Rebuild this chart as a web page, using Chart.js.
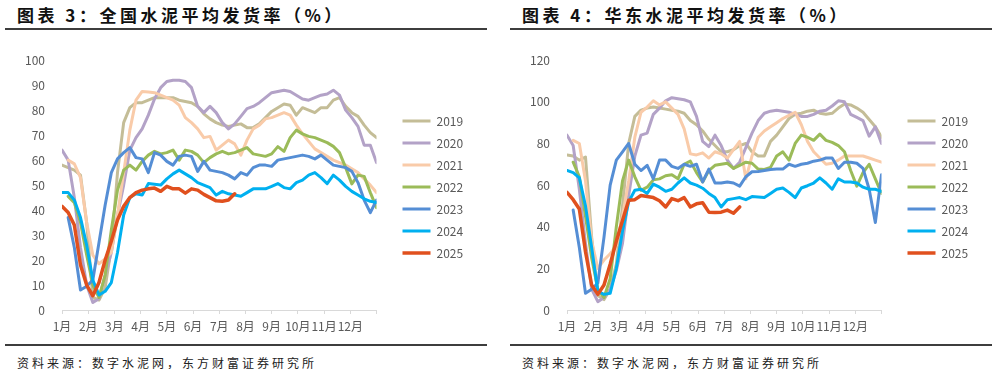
<!DOCTYPE html>
<html lang="zh">
<head>
<meta charset="UTF-8">
<title>水泥平均发货率</title>
<script src="https://cdn.jsdelivr.net/npm/chart.js"></script>
<style>
  body { margin: 0; background: #fff; width: 997px; height: 369px; overflow: hidden; position: relative;
         font-family: "Noto Sans CJK SC", sans-serif; }
  .title { position: absolute; top: 3px; font-weight: 700; font-size: 17px; letter-spacing: 3.5px;
           color: #111; line-height: 24px; white-space: nowrap; }
  .rule { position: absolute; height: 2px; background: #3d3d3d; }
  .src { position: absolute; top: 355px; font-size: 12px; letter-spacing: 3px; color: #222;
         line-height: 16px; white-space: nowrap; }
  canvas { position: absolute; top: 36px; }
</style>
</head>
<body>

<div class="title" style="left:17px">图表 3：全国水泥平均发货率（%）</div>
<div class="rule" style="left:5px;width:482px;top:28px"></div>
<div class="title" style="left:522px">图表 4：华东水泥平均发货率（%）</div>
<div class="rule" style="left:510px;width:482px;top:28px"></div>

<canvas id="natChart" width="490" height="304" style="left:0"></canvas>
<canvas id="eastChart" width="490" height="304" style="left:505px"></canvas>

<div class="rule" style="left:5px;width:482px;top:344px"></div>
<div class="src" style="left:17px">资料来源：数字水泥网，东方财富证券研究所</div>
<div class="rule" style="left:510px;width:482px;top:344px"></div>
<div class="src" style="left:522px">资料来源：数字水泥网，东方财富证券研究所</div>

<script>
// weekly shipment rate, one value per week (index 0 = first week of Jan)
const monthLabels = ['1月','2月','3月','4月','5月','6月','7月','8月','9月','10月','11月','12月'];
const seriesNames = ['2019','2020','2021','2022','2023','2024','2025'];

// 全国
const nat2019 = [58,57,56,54,35,5,4,9,25,55,75,81,83,83,84,85,85,85,85,84,83.5,83,81.5,78.5,76.5,75,74,73.5,74,74.5,73,73,74.5,77,79.5,81,82.5,82,78,81,80,79,81,81,84,85,81.5,79,77.5,74,71,69];
const nat2020 = [64,60,45,25,10,3,4.5,14,23,38,50,64,69,72.5,78,84.5,89,91.5,92,92,91.5,89,81.5,79,81.5,79,75,72.5,74.5,77.5,80.6,81.5,83,85,87,87.5,88,87.5,86,84.5,84,85,86,86.5,88,86,80,77,73.5,66,66,59];
const nat2021 = [null,60,58.5,53,35,22,18.5,20.5,23,38,55,72,84,87.5,87.3,87,86,85,84,82,77,75,72.5,69,69.5,64,66,68,66.5,62,68,72.5,74,76.5,77,78,79,78,74,70.5,67.5,64.5,63,61.5,60,59,58,56.5,55,52.5,50,47];
const nat2022 = [null,45.5,43,35,22,10,5,14,32,48,56,58,56,59.5,62,63.5,62.5,63,64,60,64,63.5,62,59,61,62.5,63.5,62.5,63,64,65,62.5,62,61.5,62.5,65.4,63.5,69,72,70.5,69.5,69,68,67,65.5,63,57,50.5,54,53.5,47,41];
const nat2023 = [null,37,25,8,9.5,12,27,42,55,60.5,63,65,61,60.5,55,63,62,59.5,58,61.5,62,61.5,55.5,59.5,56,55.5,55,54,52.5,55,54,57,58,58,57.5,60,60.5,61,61.5,62,61.5,60.5,62,60,58,57.5,57,55.5,51,44,39,44];
const nat2024 = [47,47,44,37,26,12,6,7.5,11,23,38,45,46.5,46,50.6,50.3,50,52.5,54.5,56,54.5,53,51,50,49,46,47.5,46.5,46,45.5,47,48.5,48.5,48.5,49.5,50.6,49,48.5,51,52,54,55,53,50.6,54,52,49.5,47.5,46,44.5,43.5,43];
const nat2025 = [41.5,39,34,18,10,5.7,11,20,27.5,36,41.5,45,47,48,48.5,48.8,47.5,49.5,48.5,48.5,46.8,48.5,48,46.3,45,43.7,43.5,44,46.5];

// 华东
const east2019 = [74.5,74,72,73.5,35,7,5,10,22,50,80,93,96,97,97.5,97,96.5,96,95.5,94.5,91,89,86,82,79,76,76,77,79,80,76,74,74,81,84,88,92,94,94.5,95.5,96,94.5,94,94.5,97,99,98.5,97,95,91.5,88,83];
const east2020 = [84,79,58,32,10,4,6,10,19,32,55,74,84,85,94,97,100.5,102,101.5,101,100,93,81,78.5,84,79,72,68,71,78,85,91,94.5,95.5,96,95.5,95,94,93,93,94,95.5,96,98,100.5,100,94,92.5,91,83.5,88,80];
const east2021 = [null,81.5,80,62,33,20,24,27,31,45,62,83,95,97.5,100.5,98.5,100,97,94,87,75,74.5,75.5,73,76,75,73,77,81,63,74,83,86,88,90,92,93.5,95,89,81,76,73,70,70.5,72,74,74,74,74,73,72,71];
const east2022 = [null,71,64,45,25,10,6,15,40,62,72,64,57.5,59,62.5,63,64.5,65,63,70,71.5,66,61.5,67,69.5,70,70.5,68,69.5,71,70.5,67.7,67.5,68.5,74,76,72,80,84,83,81.5,84.5,81.5,80.5,79,76,67,59.5,66,70,63,56];
const east2023 = [null,48,30,8,10,13,35,60,72,76,80,70,67,69.5,63,72,72,69,68,70,69,70,61.5,67.7,61,61,61.5,61,59.5,64,66.4,66.5,67,67.5,67.7,67.7,70,69,70,70.5,71.5,72,73,73,68,71,71,70.5,68,58,42,65];
const east2024 = [67,66,63.5,50,30,9,7.5,8,20,38,52,57.5,58,56,60.5,59,57,58,61,63.5,61,60,58.5,56,54,49.5,53,53.5,54,53,54.5,54.3,54,56,58,58.6,56.5,54,58.6,59.7,61,63.5,61,58,63,61.5,61.5,61,59,58,58,57];
const east2025 = [56.5,53,48.5,28,12,7.5,12,22,33,43,52.7,53,55,54.5,54,52.5,49.5,53.5,52.5,54,49.5,51,51.5,47,46.8,47,48,46.5,49.5];

const lineColors = ['#C4BD97', '#B3A2C7', '#F9CBA9', '#9BBB59', '#558ED5', '#00B0F0', '#E0501E'];

Chart.defaults.font.family = '"Noto Sans CJK SC", sans-serif';
Chart.defaults.font.size = 12;
Chart.defaults.color = '#595959';

const lastWeek = 51;

function makeChart(id, seriesList, yMax, yStep) {
    const datasets = seriesList.map((vals, k) => ({
        label: seriesNames[k],
        data: vals.map((v, i) => ({x: i, y: v})),
        borderColor: lineColors[k],
        backgroundColor: lineColors[k],
        borderWidth: k === 6 ? 3.5 : 3,
        borderCapStyle: 'round',
        borderJoinStyle: 'round',
        pointRadius: 0,
        tension: 0,
        order: seriesList.length - k   // later years drawn on top
    }));

    return new Chart(document.getElementById(id), {
        type: 'line',
        data: {datasets: datasets},
        options: {
            responsive: false,
            animation: false,
            devicePixelRatio: 1,
            layout: {padding: {top: 2, bottom: 4, left: 0, right: 19}},
            plugins: {
                tooltip: {enabled: false},
                legend: {
                    position: 'right',
                    align: 'center',
                    labels: {
                        usePointStyle: true,
                        pointStyle: 'line',
                        pointStyleWidth: 28,
                        boxHeight: 12,
                        padding: 10,
                        color: '#595959',
                        sort: (a, b) => a.datasetIndex - b.datasetIndex
                    }
                }
            },
            scales: {
                x: {
                    type: 'linear',
                    min: 0,
                    max: lastWeek,
                    afterBuildTicks: s => {
                        s.ticks = [];
                        for (let m = 0; m <= 12; m++) s.ticks.push({value: m * lastWeek / 12});
                    },
                    afterFit: s => { s.height = 26; },
                    ticks: {
                        autoSkip: false,
                        maxRotation: 0,
                        padding: 5,
                        callback: (v, i) => monthLabels[i] || ''
                    },
                    grid: {display: true, drawOnChartArea: false, drawTicks: true, tickLength: 4, color: '#d9d9d9'},
                    border: {display: true, color: '#d9d9d9'}
                },
                top: {
                    type: 'linear',
                    position: 'top',
                    afterFit: s => { s.height = 9; },
                    ticks: {display: false},
                    grid: {display: false, drawTicks: false},
                    border: {display: false}
                },
                y: {
                    min: 0,
                    max: yMax,
                    afterFit: s => { s.width = 62; },
                    ticks: {stepSize: yStep, padding: 17},
                    grid: {display: false, drawTicks: false},
                    border: {display: false}
                },
                gap: {
                    position: 'right',
                    afterFit: s => { s.width = 16; },
                    ticks: {display: false},
                    grid: {display: false, drawTicks: false},
                    border: {display: false}
                }
            }
        }
    });
}

makeChart('natChart', [nat2019, nat2020, nat2021, nat2022, nat2023, nat2024, nat2025], 100, 10);
makeChart('eastChart', [east2019, east2020, east2021, east2022, east2023, east2024, east2025], 120, 20);
</script>
</body>
</html>
